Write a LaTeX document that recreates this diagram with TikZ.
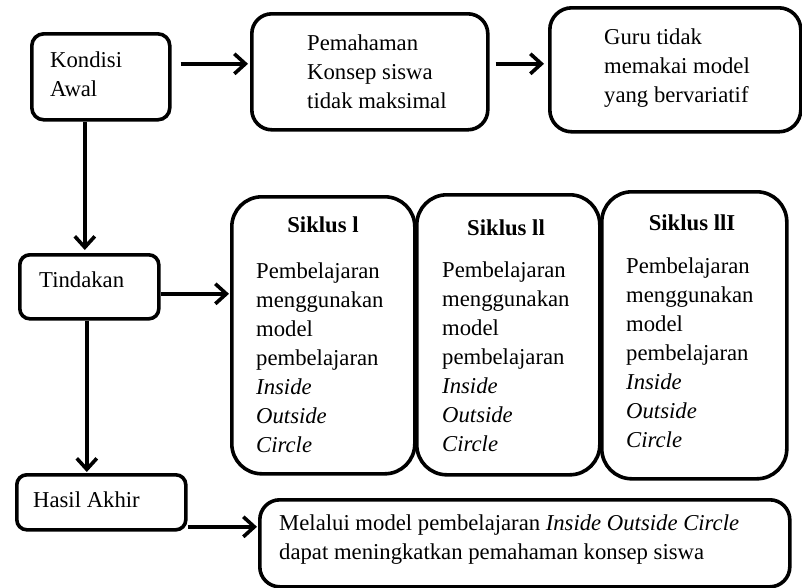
\documentclass[tikz,border=0pt]{standalone}
\usepackage{fontspec}
\setmainfont{Liberation Serif}
\usetikzlibrary{arrows.meta}
\tikzset{
  box/.style={draw=black, line width=3.6pt, fill=white, anchor=north west, inner sep=0pt},
  txt/.style={align=left, inner sep=0pt, font=\fontsize{22.7}{29}\selectfont},
  ttl/.style={inner sep=0pt, font=\fontsize{22.7}{29}\selectfont\bfseries},
  arr/.style={line width=3.6pt, -{Straight Barb[length=11pt,width=20pt,line width=3.6pt]}},
}
\begin{document}
\begin{tikzpicture}[x=1pt,y=-1pt]
\useasboundingbox (0,0) rectangle (802,587);
% boxes
\node[box, rounded corners=12pt, minimum width=138pt, minimum height=86pt] (kondisi) at (30,32) {};
\node[box, rounded corners=20pt, minimum width=236pt, minimum height=116pt] (pemahaman) at (250,12) {};
\node[box, rounded corners=22pt, minimum width=251pt, minimum height=124pt] (guru) at (548,6) {};
\node[box, rounded corners=10pt, minimum width=139pt, minimum height=64pt] (tindakan) at (18,253) {};
\node[box, rounded corners=30pt, minimum width=183pt, minimum height=277pt] (s1) at (230,195) {};
\node[box, rounded corners=30pt, minimum width=183pt, minimum height=280pt] (s2) at (415,193) {};
\node[box, rounded corners=30pt, minimum width=185pt, minimum height=287pt] (s3) at (600,190) {};
\node[box, rounded corners=10pt, minimum width=169pt, minimum height=55pt] (hasil) at (15,473) {};
\node[box, rounded corners=20pt, minimum width=530pt, minimum height=87pt] (final) at (258,498) {};
% texts
\node[txt, anchor=west] (kondisiT) at (50,74) {Kondisi\\Awal};
\node[txt, anchor=west] (pemahamanT) at (307,72) {Pemahaman\\Konsep siswa\\tidak maksimal};
\node[txt, anchor=west] (guruT) at (604,68) {Guru tidak\\memakai model\\yang bervariatif};
\node[txt, anchor=west] (tindakanT) at (39,280) {Tindakan};
\node[ttl] (s1T) at (323,225) {Siklus l};
\node[ttl] (s2T) at (506,228) {Siklus ll};
\node[ttl] (s3T) at (692,223) {Siklus llI};
\node[txt, anchor=west] (s1B) at (256,358) {Pembelajaran\\menggunakan\\model\\pembelajaran\\\textit{Inside}\\\textit{Outside}\\\textit{Circle}};
\node[txt, anchor=west] (s2B) at (442,357) {Pembelajaran\\menggunakan\\model\\pembelajaran\\\textit{Inside}\\\textit{Outside}\\\textit{Circle}};
\node[txt, anchor=west] (s3B) at (626,353) {Pembelajaran\\menggunakan\\model\\pembelajaran\\\textit{Inside}\\\textit{Outside}\\\textit{Circle}};
\node[txt, anchor=west] (hasilT) at (33,500) {Hasil Akhir};
\node[txt, anchor=west] (finalT) at (279,540) {Melalui model pembelajaran \textit{Inside Outside Circle}\\dapat meningkatkan pemahaman konsep siswa};
% connectors
\coordinate (a1) at ([xshift=9pt,yshift=13pt]kondisi.east);
\draw[arr, shorten >=2pt] (a1) -- (a1 -| pemahaman.west);
\coordinate (a2) at ([xshift=6pt,yshift=8pt]pemahaman.east);
\draw[arr, shorten >=4pt] (a2) -- (a2 -| guru.west);
\coordinate (a3) at ([xshift=-16pt]kondisi.south);
\draw[arr, shorten >=3pt] (a3) -- (a3 |- tindakan.north);
\coordinate (a4) at ([yshift=-7pt]tindakan.east);
\draw[arr, shorten >=1pt] (a4) -- (a4 -| s1.west);
\coordinate (a5) at ([xshift=-2.5pt]tindakan.south);
\draw[arr, shorten >=1pt] (a5) -- (a5 |- hasil.north);
\coordinate (a6) at ([yshift=-24.5pt]hasil.east);
\draw[arr, shorten >=1pt] (a6) -- (a6 -| final.west);
\end{tikzpicture}
\end{document}
